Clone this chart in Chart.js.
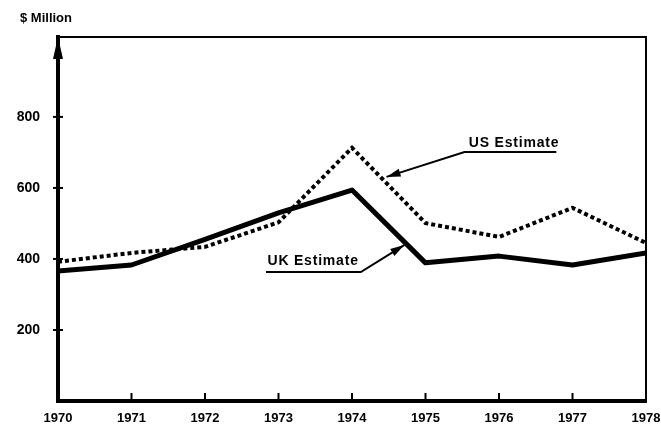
<!DOCTYPE html>
<html>
<head>
<meta charset="utf-8">
<script src="https://cdn.jsdelivr.net/npm/chart.js@4/dist/chart.umd.min.js"></script>
<style>
  html, body { margin: 0; padding: 0; background: #fff; }
  #wrap { width: 661px; height: 430px; position: relative; }
</style>
</head>
<body>
<div id="wrap"><canvas id="chart"></canvas></div>
<script>
// dados
const years = [1970, 1971, 1972, 1973, 1974, 1975, 1976, 1977, 1978];
const ukEstimate = [366, 383, 455, 530, 594, 389, 408, 383, 417];
const usEstimate = [392, 417, 434, 503, 713, 501, 462, 544, 445];
const yTicks = [200, 400, 600, 800];
const yMax = 1025;
const unitLabel = '$ Million';

// rótulos com seta (em unidades dos dados)
const callouts = [
  { text: 'US Estimate', tx: 1975.59, ty: 727, ux0: 1975.53, ux1: 1976.78, uy: 701, ax: 1974.47, ay: 631 },
  { text: 'UK Estimate', tx: 1972.85, ty: 394, ux0: 1972.83, ux1: 1974.12, uy: 363, ax: 1974.71, ay: 439 }
];

const FAMILY = '"Liberation Sans", Arial, sans-serif';

function arrowHead(ctx, x0, y0, x1, y1, len, half) {
  const a = Math.atan2(y1 - y0, x1 - x0);
  ctx.beginPath();
  ctx.moveTo(x1, y1);
  ctx.lineTo(x1 - len * Math.cos(a) + half * Math.sin(a), y1 - len * Math.sin(a) - half * Math.cos(a));
  ctx.lineTo(x1 - len * Math.cos(a) - half * Math.sin(a), y1 - len * Math.sin(a) + half * Math.cos(a));
  ctx.closePath();
  ctx.fill();
}

const framePlugin = {
  id: 'frame',
  afterDraw(chart) {
    const { ctx, chartArea: a, scales: { x, y } } = chart;
    ctx.save();
    ctx.strokeStyle = '#000';
    ctx.fillStyle = '#000';

    // borda fina em cima e à direita
    ctx.lineWidth = 2;
    ctx.beginPath();
    ctx.moveTo(a.left, a.top);
    ctx.lineTo(a.right, a.top);
    ctx.lineTo(a.right, a.bottom);
    ctx.stroke();

    // seta no topo do eixo y
    ctx.beginPath();
    ctx.moveTo(a.left, a.top);
    ctx.lineTo(a.left - 5, a.top + 22);
    ctx.lineTo(a.left + 5, a.top + 22);
    ctx.closePath();
    ctx.fill();

    // marcas do eixo y
    ctx.lineWidth = 2;
    for (const v of yTicks) {
      const py = y.getPixelForValue(v);
      ctx.beginPath();
      ctx.moveTo(a.left - 5, py);
      ctx.lineTo(a.left + 5, py);
      ctx.stroke();
    }
    // marcas do eixo x
    for (const yr of years.slice(1, -1)) {
      const px = x.getPixelForValue(yr);
      ctx.beginPath();
      ctx.moveTo(px, a.bottom);
      ctx.lineTo(px, a.bottom - 8);
      ctx.stroke();
    }

    // título do eixo
    ctx.font = 'bold 13px ' + FAMILY;
    ctx.textBaseline = 'middle';
    ctx.textAlign = 'left';
    ctx.fillText(unitLabel, 20, 18);

    // rótulos das séries
    ctx.font = 'bold 14px ' + FAMILY;
    ctx.letterSpacing = '0.8px';
    for (const c of callouts) {
      ctx.fillText(c.text, x.getPixelForValue(c.tx), y.getPixelForValue(c.ty));
      const u0 = x.getPixelForValue(c.ux0), u1 = x.getPixelForValue(c.ux1), uy = y.getPixelForValue(c.uy);
      const ax = x.getPixelForValue(c.ax), ay = y.getPixelForValue(c.ay);
      ctx.lineWidth = 2;
      ctx.beginPath();
      const start = c.ax < c.ux0 ? u0 : u1;
      const end = c.ax < c.ux0 ? u1 : u0;
      ctx.moveTo(end, uy);
      ctx.lineTo(start, uy);
      ctx.lineTo(ax, ay);
      ctx.stroke();
      arrowHead(ctx, start, uy, ax, ay, 14, 4);
    }
    ctx.restore();
  }
};

new Chart(document.getElementById('chart'), {
  type: 'line',
  data: {
    labels: years,
    datasets: [
      {
        label: 'UK Estimate',
        data: years.map((yr, i) => ({ x: yr, y: ukEstimate[i] })),
        borderColor: '#000',
        borderWidth: 5,
        borderJoinStyle: 'round',
        pointRadius: 0,
        tension: 0
      },
      {
        label: 'US Estimate',
        data: years.map((yr, i) => ({ x: yr, y: usEstimate[i] })),
        borderColor: '#000',
        borderWidth: 4,
        borderDash: [4, 3],
        pointRadius: 0,
        tension: 0
      }
    ]
  },
  options: {
    responsive: true,
    maintainAspectRatio: false,
    animation: false,
    layout: { padding: { top: 37, right: 15, bottom: 0, left: 0 } },
    plugins: { legend: { display: false }, tooltip: { enabled: false } },
    scales: {
      x: {
        type: 'linear',
        min: 1970,
        max: 1978,
        grid: { display: false },
        border: { display: true, color: '#000', width: 4 },
        ticks: {
          stepSize: 1,
          color: '#000',
          padding: 2,
          font: { family: FAMILY, size: 13, weight: 'bold' },
          callback: v => String(v)
        },
        afterFit(scale) {
          scale.height = 29;
          scale.paddingLeft = 0;
          scale.paddingRight = 0;
        }
      },
      y: {
        min: 0,
        max: yMax,
        grid: { display: false },
        border: { display: true, color: '#000', width: 4 },
        afterBuildTicks(scale) { scale.ticks = yTicks.map(v => ({ value: v })); },
        ticks: {
          color: '#000',
          padding: 10,
          font: { family: FAMILY, size: 14, weight: 'bold' },
          callback: v => String(v)
        },
        afterFit(scale) { scale.width = 58; }
      }
    }
  },
  plugins: [framePlugin]
});
</script>
</body>
</html>
